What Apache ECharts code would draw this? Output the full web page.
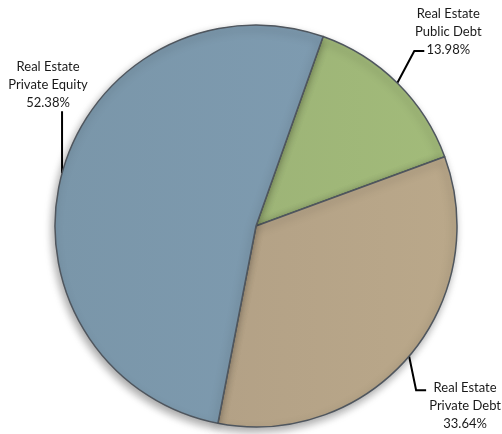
<!DOCTYPE html>
<html>
<head>
<meta charset="utf-8">
<script src="https://cdn.jsdelivr.net/npm/echarts@6/dist/echarts.min.js"></script>
<style>
  html, body { margin: 0; padding: 0; background: #fff; }
  #chart { width: 502px; height: 434px; }
</style>
</head>
<body>
<div id="chart"></div>
<script>
// slices in clockwise order, starting at the top-right boundary
var categories = ["Real Estate\nPublic Debt", "Real Estate\nPrivate Debt", "Real Estate\nPrivate Equity"];
var shares = [13.98, 33.64, 52.38];
var colors = ["#9bb375", "#b2a084", "#7894a8"];

// leader line shapes relative to the anchor on the pie edge
var leaders = [
  { bend: [17, -32], end: 10, lx: 51, ly: -51 },
  { bend: [7, 34], end: 10, lx: 56, ly: 50 },
  { bend: [0, -62], end: 0, lx: -14, ly: -88 }
];

var chart = echarts.init(document.getElementById("chart"));

chart.setOption({
  animation: false,
  series: [
    {
      type: "pie",
      center: [256, 226],
      radius: 201,
      startAngle: 70.5,
      clockwise: true,
      itemStyle: {
        borderColor: "#4f565e",
        borderWidth: 1.5,
        shadowColor: "rgba(0,0,0,0.35)",
        shadowBlur: 8,
        shadowOffsetX: -2,
        shadowOffsetY: 4
      },
      label: {
        show: true,
        position: "outside",
        overflow: "none",
        fontFamily: "Lato",
        fontSize: 13,
        lineHeight: 18,
        color: "#1a1a1a",
        formatter: function (p) {
          return p.name + "\n" + p.value.toFixed(2) + "%";
        }
      },
      labelLine: {
        show: true,
        length: 20,
        length2: 10,
        lineStyle: { color: "#000", width: 2 }
      },
      labelLayout: function (params) {
        var l = leaders[params.dataIndex];
        var a = params.labelLinePoints ? params.labelLinePoints[0] : [0, 0];
        var b = [a[0] + l.bend[0], a[1] + l.bend[1]];
        var c = [b[0] + l.end, b[1]];
        return {
          x: a[0] + l.lx,
          y: a[1] + l.ly,
          width: 120,
          align: "center",
          verticalAlign: "middle",
          labelLinePoints: [a, b, c]
        };
      },
      data: categories.map(function (name, i) {
        return {
          name: name,
          value: shares[i],
          itemStyle: {
            color: new echarts.graphic.LinearGradient(0, 0, 1, 0, [
              { offset: 0, color: echarts.color.lift(colors[i], 0.02) },
              { offset: 1, color: echarts.color.lift(colors[i], -0.05) }
            ])
          }
        };
      })
    }
  ]
});
</script>
</body>
</html>
